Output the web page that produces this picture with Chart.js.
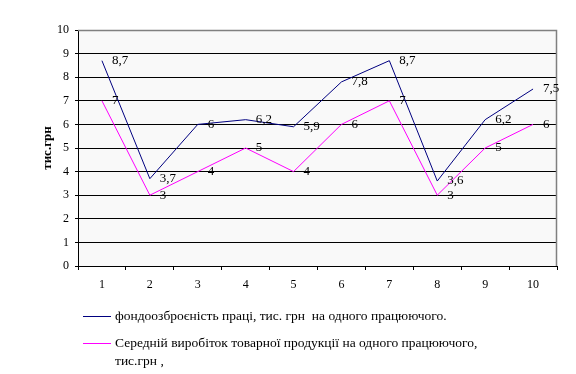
<!DOCTYPE html>
<html><head><meta charset="utf-8">
<script src="https://cdn.jsdelivr.net/npm/chart.js@4"></script>
<style>html,body{margin:0;padding:0;background:#fff;}#wrap{width:576px;height:374px;position:relative;}</style>
</head><body><div id="wrap"><canvas id="c" width="576" height="374"></canvas></div>
<script>
const categories = ['1','2','3','4','5','6','7','8','9','10'];
const seriesA = [8.7, 3.7, 6, 6.2, 5.9, 7.8, 8.7, 3.6, 6.2, 7.5];
const seriesB = [7, 3, 4, 5, 4, 6, 7, 3, 5, 6];
const seriesALabel = 'фондоозброєність праці, тис. грн  на одного працюючого.';
const seriesBLabel = ['Середній виробіток товарної продукції на одного працюючого,', 'тис.грн ,'];
const yTitle = 'тис.грн';
const yTicks = [0,1,2,3,4,5,6,7,8,9,10];

const FONT = '"Liberation Serif", "Times New Roman", serif';

const bgPlugin = {
  id: 'bg',
  beforeDraw(chart) {
    const {ctx, chartArea: a} = chart;
    ctx.save();
    ctx.fillStyle = '#f9f9f9';
    ctx.fillRect(a.left, a.top, a.right - a.left, a.bottom - a.top);
    ctx.restore();
  },
  afterDatasetsDraw(chart) {
    const {ctx, chartArea: a} = chart;
    ctx.save();
    ctx.strokeStyle = '#808080';
    ctx.lineWidth = 1.5;
    ctx.beginPath();
    ctx.moveTo(a.left, a.top + 0.5);
    ctx.lineTo(a.right - 0.5, a.top + 0.5);
    ctx.lineTo(a.right - 0.5, a.bottom);
    ctx.stroke();
    ctx.restore();
  }
};

const labelPlugin = {
  id: 'vlabels',
  afterDatasetsDraw(chart) {
    const {ctx} = chart;
    ctx.save();
    ctx.font = '13px ' + FONT;
    ctx.fillStyle = '#000';
    ctx.textAlign = 'left';
    ctx.textBaseline = 'middle';
    chart.data.datasets.forEach((ds, i) => {
      const meta = chart.getDatasetMeta(i);
      meta.data.forEach((pt, j) => {
        const v = ds.data[j];
        ctx.fillText(String(v).replace('.', ','), pt.x + 10, pt.y);
      });
    });
    ctx.restore();
  }
};

const legendPlugin = {
  id: 'customLegend',
  afterDraw(chart) {
    const {ctx} = chart;
    ctx.save();
    ctx.font = '13.5px ' + FONT;
    ctx.fillStyle = '#000';
    ctx.textBaseline = 'middle';
    ctx.textAlign = 'left';
    const items = [
      {color: '#000080', text: [seriesALabel], y: 316},
      {color: '#ff00ff', text: seriesBLabel, y: 343}
    ];
    items.forEach(it => {
      ctx.strokeStyle = it.color;
      ctx.lineWidth = 1;
      ctx.beginPath();
      ctx.moveTo(83, it.y + 0.5);
      ctx.lineTo(111, it.y + 0.5);
      ctx.stroke();
      it.text.forEach((t, k) => ctx.fillText(t, 115, it.y + k * 18));
    });
    ctx.restore();
  }
};

new Chart(document.getElementById('c'), {
  type: 'line',
  data: {
    labels: categories,
    datasets: [
      {label: seriesALabel, data: seriesA, borderColor: '#000080', borderWidth: 1, pointRadius: 0, tension: 0, fill: false},
      {label: seriesBLabel.join(' '), data: seriesB, borderColor: '#ff00ff', borderWidth: 1, pointRadius: 0, tension: 0, fill: false}
    ]
  },
  options: {
    responsive: false,
    animation: false,
    layout: {padding: {left: 40, top: 30, right: 19, bottom: 78}},
    plugins: {legend: {display: false}, tooltip: {enabled: false}},
    scales: {
      x: {
        offset: true,
        grid: {offset: true, drawOnChartArea: false, drawTicks: true, tickLength: 4, color: '#000'},
        border: {color: '#000', width: 1},
        ticks: {color: '#000', font: {family: FONT, size: 12}, padding: 8, maxRotation: 0},
        afterFit(s) { s.height = 30; }
      },
      y: {
        min: 0, max: 10,
        afterBuildTicks(s) { s.ticks = yTicks.map(v => ({value: v})); },
        grid: {color: '#000', lineWidth: 1, drawTicks: true, tickLength: 3},
        border: {color: '#000', width: 1},
        ticks: {color: '#000', font: {family: FONT, size: 12}, padding: 6},
        title: {display: true, text: yTitle, color: '#000', font: {family: FONT, size: 13, weight: 'bold'}, padding: {top: 0, bottom: 0}},
        afterFit(s) { s.width = 38; }
      }
    }
  },
  plugins: [bgPlugin, labelPlugin, legendPlugin]
});
</script></body></html>
